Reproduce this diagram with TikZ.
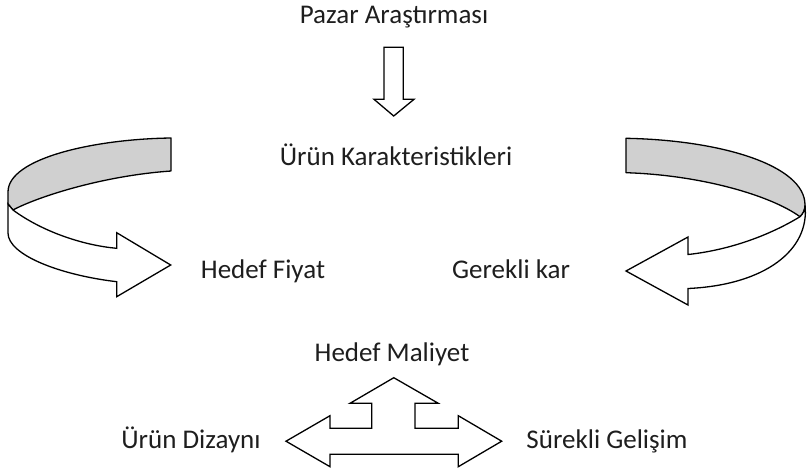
\documentclass[tikz,border=0pt]{standalone}
\usepackage{fontspec}
\setmainfont{Carlito}
\definecolor{bandgray}{RGB}{208,208,208}
\definecolor{txt}{RGB}{30,30,30}
\tikzset{
  lbl/.style={font=\fontsize{27}{32}\selectfont, anchor=base, inner sep=0pt, text=txt},
  blk/.style={draw=black, line width=1.3pt, line join=miter, fill=white},
  band/.style={draw=black, line width=1.3pt, line join=round, fill=bandgray},
}
\begin{document}
\begin{tikzpicture}[x=1pt,y=-1pt]
\useasboundingbox (0,0) rectangle (807,475);

% texts
\node[lbl] (pazar) at (394,23) {Pazar Araştırması};
\node[lbl] (urun)  at (396,165) {Ürün Karakteristikleri};
\node[lbl] (fiyat) at (263,278) {Hedef Fiyat};
\node[lbl] (kar)   at (511,278) {Gerekli kar};
\node[lbl] (maliyet) at (392,361) {Hedef Maliyet};
\node[lbl] (dizayn)  at (191,448) {Ürün Dizaynı};
\node[lbl] (gelisim) at (607,448) {Sürekli Gelişim};

% down arrow
\draw[blk] (384,47.3) -- (403.3,47.3) -- (403.3,99.3) -- (414,99.3) -- (393.7,116)
  -- (374,99.3) -- (384,99.3) -- cycle;

% three-way arrow
\draw[blk] (393.8,377.7) -- (438.3,403.3) -- (415,403.3) -- (415,428.3) -- (458.3,428.3)
  -- (458.3,415.7) -- (501.7,441.2) -- (458.3,466.7) -- (458.3,454.3) -- (330,454.3)
  -- (330,466.7) -- (286,441.2) -- (330,415.7) -- (330,428.3) -- (371.7,428.3)
  -- (371.7,403.3) -- (350,403.3) -- cycle;

% left curved ribbon arrow
\draw[band] (171,138) .. controls (95,139) and (8,158) .. (8,192) -- (8,204) -- (13,210)
  .. controls (35,198) and (100,176) .. (171,171) -- cycle;
\draw[blk] (13,210) .. controls (40,230) and (80,245) .. (116.7,248.3) -- (116.7,232.7)
  -- (170.7,265) -- (116.7,296.7) -- (116.7,281.7)
  .. controls (60,275) and (8,255) .. (8,233) -- (8,204) -- cycle;

% right curved ribbon arrow
\draw[band] (626,138.3) .. controls (720,140) and (805,165) .. (805,205)
  .. controls (805,210) and (803,214) .. (800,216.7)
  .. controls (770,195) and (700,175) .. (626,172.7) -- cycle;
\draw[blk] (800,216.7) .. controls (770,235) and (730,250) .. (688,254.5) -- (688,237)
  -- (626,271) -- (688,305) -- (688,288.5)
  .. controls (765,285) and (810,250) .. (805,205)
  .. controls (805,210) and (803,214) .. (800,216.7) -- cycle;
\end{tikzpicture}
\end{document}
